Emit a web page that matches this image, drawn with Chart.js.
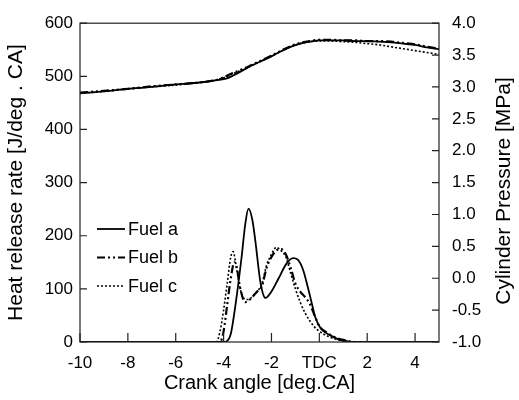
<!DOCTYPE html>
<html>
<head>
<meta charset="utf-8">
<script src="https://cdn.jsdelivr.net/npm/chart.js@4.4.0/dist/chart.umd.min.js"></script>
<style>
  html, body { margin: 0; padding: 0; background: #fff; }
</style>
</head>
<body>
<canvas id="chart" width="519" height="400"></canvas>
<script>
// Legend / series names
const fuels = ['Fuel a', 'Fuel b', 'Fuel c'];

// Axis tick values
const xTicks = [-10, -8, -6, -4, -2, 0, 2, 4];
const hrrTicks = [0, 100, 200, 300, 400, 500, 600];
const pressureTicks = [-1.0, -0.5, 0.0, 0.5, 1.0, 1.5, 2.0, 2.5, 3.0, 3.5, 4.0];

// Cylinder pressure [MPa] (right axis)
const pAngles = [-10, -9, -8, -7, -6, -5, -4.2, -3.9, -3.6, -3.2, -2.8, -2.4, -2.0, -1.6, -1.2, -0.8, -0.4, 0, 0.5, 1, 1.5, 2, 2.5, 3, 3.5, 4, 4.5, 5];
const pressureA = [2.90, 2.93, 2.97, 3.00, 3.04, 3.07, 3.11, 3.13, 3.18, 3.26, 3.34, 3.41, 3.48, 3.56, 3.63, 3.68, 3.71, 3.73, 3.73, 3.73, 3.72, 3.72, 3.71, 3.70, 3.68, 3.66, 3.62, 3.59];
const pressureB = [2.91, 2.94, 2.97, 3.01, 3.04, 3.07, 3.12, 3.17, 3.22, 3.28, 3.35, 3.42, 3.49, 3.57, 3.64, 3.69, 3.72, 3.74, 3.74, 3.73, 3.73, 3.72, 3.72, 3.71, 3.69, 3.67, 3.63, 3.60];
const pressureC = [2.90, 2.93, 2.97, 3.00, 3.03, 3.07, 3.12, 3.16, 3.21, 3.27, 3.34, 3.41, 3.48, 3.56, 3.63, 3.68, 3.71, 3.72, 3.72, 3.71, 3.70, 3.68, 3.66, 3.63, 3.60, 3.57, 3.54, 3.51];

// Heat release rate [J/deg.CA] (left axis)
const hrrAnglesA = [-10, -4.0, -3.85, -3.7, -3.5, -3.25, -3.1, -2.96, -2.8, -2.67, -2.46, -2.25, -2.0, -1.71, -1.38, -1.1, -0.9, -0.68, -0.47, -0.3, -0.18, 0.07, 0.48, 0.8, 1.2, 1.5, 5];
const hrrA = [0, 0, 2, 15, 71, 159, 220, 251, 230, 189, 112, 83, 95, 119, 147, 158, 155, 136, 101, 70, 48, 25, 12, 5, 1, 0, 0];

const hrrAnglesB = [-10, -4.15, -4.0, -3.85, -3.7, -3.55, -3.45, -3.3, -3.1, -2.9, -2.6, -2.4, -2.2, -2.0, -1.8, -1.6, -1.4, -1.2, -1.0, -0.8, -0.6, -0.4, -0.2, 0, 0.3, 0.6, 1.0, 1.5, 5];
const hrrB = [0, 0, 20, 70, 120, 150, 140, 100, 75, 80, 95, 105, 140, 160, 172, 175, 165, 140, 110, 95, 85, 72, 50, 30, 18, 10, 4, 0, 0];

const hrrAnglesC = [-10, -4.3, -4.15, -4.0, -3.85, -3.7, -3.6, -3.5, -3.35, -3.2, -3.0, -2.7, -2.4, -2.2, -2.0, -1.8, -1.6, -1.4, -1.2, -1.0, -0.8, -0.6, -0.4, -0.2, 0, 0.4, 0.8, 1.5, 5];
const hrrC = [0, 0, 20, 60, 110, 160, 170, 150, 110, 85, 80, 90, 110, 145, 165, 178, 172, 160, 130, 100, 75, 55, 40, 28, 20, 10, 4, 0, 0];

const fontFamily = '"Liberation Sans", Arial, Helvetica, sans-serif';
const lineStyles = [
    { dash: [], width: 1.8 },
    { dash: [8, 3, 2, 3, 2, 3], width: 2.2 },
    { dash: [2, 2], width: 1.6 }
];

function toPoints(xs, ys) {
    return xs.map((x, i) => ({ x: x, y: ys[i] }));
}

function makeSet(label, xs, ys, style, axis) {
    return {
        label: label,
        data: toPoints(xs, ys),
        yAxisID: axis,
        borderColor: '#000',
        borderWidth: style.width,
        borderDash: style.dash,
        pointRadius: 0,
        fill: false,
        cubicInterpolationMode: 'monotone'
    };
}

const datasets = [
    makeSet(fuels[0], hrrAnglesA, hrrA, lineStyles[0], 'y'),
    makeSet(fuels[1], hrrAnglesB, hrrB, lineStyles[1], 'y'),
    makeSet(fuels[2], hrrAnglesC, hrrC, lineStyles[2], 'y'),
    makeSet(fuels[0], pAngles, pressureA, lineStyles[0], 'y2'),
    makeSet(fuels[1], pAngles, pressureB, lineStyles[1], 'y2'),
    makeSet(fuels[2], pAngles, pressureC, lineStyles[2], 'y2')
];

// frame, inward tick marks, legend and right axis title
const decorPlugin = {
    id: 'decor',
    afterDraw(chart) {
        const ctx = chart.ctx;
        const area = chart.chartArea;
        ctx.save();
        ctx.strokeStyle = '#222';
        ctx.lineWidth = 1.2;
        ctx.setLineDash([]);
        ctx.strokeRect(area.left, area.top, area.right - area.left, area.bottom - area.top);

        const len = 7;
        ctx.beginPath();
        const sx = chart.scales.x;
        xTicks.forEach(v => {
            const px = sx.getPixelForValue(v);
            ctx.moveTo(px, area.bottom);
            ctx.lineTo(px, area.bottom - len - 2);
        });
        const sy = chart.scales.y;
        hrrTicks.forEach(v => {
            const py = sy.getPixelForValue(v);
            ctx.moveTo(area.left, py);
            ctx.lineTo(area.left + len, py);
        });
        const sy2 = chart.scales.y2;
        pressureTicks.forEach(v => {
            const py = sy2.getPixelForValue(v);
            ctx.moveTo(area.right, py);
            ctx.lineTo(area.right - len, py);
        });
        ctx.stroke();

        // legend
        ctx.fillStyle = '#000';
        ctx.font = '18px ' + fontFamily;
        ctx.textBaseline = 'middle';
        ctx.textAlign = 'left';
        fuels.forEach((name, i) => {
            const y = 229 + i * 28.5;
            ctx.strokeStyle = '#000';
            ctx.lineWidth = lineStyles[i].width;
            ctx.setLineDash(lineStyles[i].dash);
            ctx.beginPath();
            ctx.moveTo(97, y);
            ctx.lineTo(125, y);
            ctx.stroke();
            ctx.fillText(name, 128, y + 1);
        });

        // right axis title, reading bottom to top
        ctx.setLineDash([]);
        ctx.font = '21px ' + fontFamily;
        ctx.textAlign = 'center';
        ctx.translate(504, 191);
        ctx.rotate(-Math.PI / 2);
        ctx.fillText('Cylinder Pressure [MPa]', 0, 0);
        ctx.restore();
    }
};

new Chart(document.getElementById('chart'), {
    type: 'line',
    data: { datasets: datasets },
    plugins: [decorPlugin],
    options: {
        responsive: false,
        animation: false,
        layout: { padding: { top: 14, left: 0, right: 0, bottom: 0 } },
        plugins: {
            legend: { display: false },
            tooltip: { enabled: false }
        },
        scales: {
            x: {
                type: 'linear',
                min: -10,
                max: 5,
                afterBuildTicks: s => { s.ticks = xTicks.map(v => ({ value: v })); },
                afterFit: s => { s.height = 58; },
                grid: { display: false, drawTicks: false },
                border: { display: false },
                ticks: {
                    padding: 11,
                    color: '#000',
                    font: { family: fontFamily, size: 17 },
                    callback: v => (v === 0 ? 'TDC' : String(v))
                },
                title: {
                    display: true,
                    text: 'Crank angle [deg.CA]',
                    color: '#000',
                    font: { family: fontFamily, size: 20 },
                    padding: { top: 0, bottom: 5 }
                }
            },
            y: {
                position: 'left',
                min: 0,
                max: 600,
                afterBuildTicks: s => { s.ticks = hrrTicks.map(v => ({ value: v })); },
                afterFit: s => { s.width = 80; },
                grid: { display: false, drawTicks: false },
                border: { display: false },
                ticks: {
                    padding: 7,
                    color: '#000',
                    font: { family: fontFamily, size: 17 }
                },
                title: {
                    display: true,
                    text: 'Heat release rate [J/deg . CA]',
                    color: '#000',
                    font: { family: fontFamily, size: 21 },
                    padding: { top: 4, bottom: 0 }
                }
            },
            y2: {
                position: 'right',
                min: -1,
                max: 4,
                afterBuildTicks: s => { s.ticks = pressureTicks.map(v => ({ value: v })); },
                afterFit: s => { s.width = 80; },
                grid: { display: false, drawTicks: false },
                border: { display: false },
                ticks: {
                    padding: 13,
                    color: '#000',
                    font: { family: fontFamily, size: 17 },
                    callback: v => v.toFixed(1)
                }
            }
        }
    }
});
</script>
</body>
</html>
